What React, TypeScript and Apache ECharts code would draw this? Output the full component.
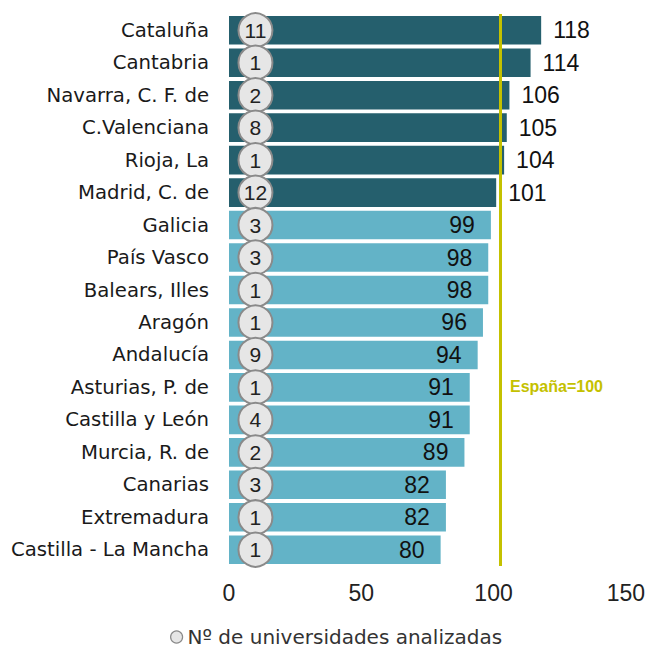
import React, { useEffect, useRef } from "react";
import * as echarts from "echarts";

const categories = [
  "Cataluña", "Cantabria", "Navarra, C. F. de", "C.Valenciana", "Rioja, La", "Madrid, C. de",
  "Galicia", "País Vasco", "Balears, Illes", "Aragón", "Andalucía", "Asturias, P. de",
  "Castilla y León", "Murcia, R. de", "Canarias", "Extremadura", "Castilla - La Mancha",
];
const indexValues = [118, 114, 106, 105, 104, 101, 99, 98, 98, 96, 94, 91, 91, 89, 82, 82, 80];
const universities = [11, 1, 2, 8, 1, 12, 3, 3, 1, 1, 9, 1, 4, 2, 3, 1, 1];
const xTicks = [0, 50, 100, 150];
const referenceLine = 102.5;
const referenceLabel = "España=100";
const legendLabel = "Nº de universidades analizadas";

const DARK = "#255f6d";
const LIGHT = "#63b3c7";
const YELLOW = "#c4c100";
const NARROW = "'Liberation Sans Narrow', 'Liberation Sans', sans-serif";
const WIDE = "'DejaVu Sans', sans-serif";

export default function App() {
  const ref = useRef<HTMLDivElement>(null);
  useEffect(() => {
    const chart = echarts.init(ref.current!, null, { renderer: "svg" });
    const barData = indexValues.map((v) => {
      const above = v > 100;
      return {
        value: v,
        itemStyle: { color: above ? DARK : LIGHT },
        label: {
          show: true,
          position: above ? "right" : "insideRight",
          distance: above ? 12 : 16,
          color: "#111",
          fontSize: 23,
          fontFamily: NARROW,
          formatter: String(v),
        },
      };
    });
    chart.setOption({
      animation: false,
      grid: { left: 229, right: 21, top: 14, bottom: 85, containLabel: false },
      legend: {
        top: 627,
        left: 170,
        padding: 0,
        data: [legendLabel],
        itemWidth: 12,
        itemHeight: 12,
        itemGap: 4,
        itemStyle: { color: "#e6e6e6", borderColor: "#8a8a8a", borderWidth: 1.2 },
        textStyle: { fontSize: 20, lineHeight: 20, color: "#333", fontFamily: WIDE },
      },
      xAxis: {
        type: "value",
        min: xTicks[0],
        max: xTicks[xTicks.length - 1],
        interval: 50,
        splitLine: { show: false },
        axisLine: { show: false },
        axisTick: { show: false },
        axisLabel: { fontSize: 23, color: "#222", fontFamily: NARROW, margin: 15 },
      },
      yAxis: {
        type: "category",
        data: categories,
        inverse: true,
        axisLine: { show: false },
        axisTick: { show: false },
        axisLabel: { fontSize: 19.7, color: "#1a1a1a", fontFamily: WIDE, margin: 20 },
      },
      series: [
        {
          type: "bar",
          data: barData,
          barWidth: "88%",
          markLine: {
            silent: true,
            symbol: "none",
            lineStyle: { color: YELLOW, width: 3, type: "solid" },
            label: { show: false },
            data: [{ xAxis: referenceLine }],
          },
          z: 2,
        },
        {
          type: "scatter",
          name: legendLabel,
          data: universities.map((u, i) => [10, i, u]),
          symbol: "circle",
          symbolSize: 34,
          itemStyle: { color: "#e6e6e6", borderColor: "#8a8a8a", borderWidth: 2, opacity: 1 },
          label: {
            show: true,
            position: "inside",
            formatter: (p: any) => String(p.value[2]),
            fontSize: 21,
            color: "#222",
            fontFamily: NARROW,
          },
          z: 5,
        },
      ],
      graphic: [
        {
          type: "text",
          left: 510,
          top: 378,
          style: {
            text: referenceLabel,
            fill: YELLOW,
            fontSize: 16,
            fontWeight: "bold",
            fontFamily: NARROW,
          },
        },
      ],
    });
    return () => chart.dispose();
  }, []);
  return (
    <div
      ref={ref}
      style={{ position: "absolute", left: 0, top: 0, width: 648, height: 651 }}
    />
  );
}
